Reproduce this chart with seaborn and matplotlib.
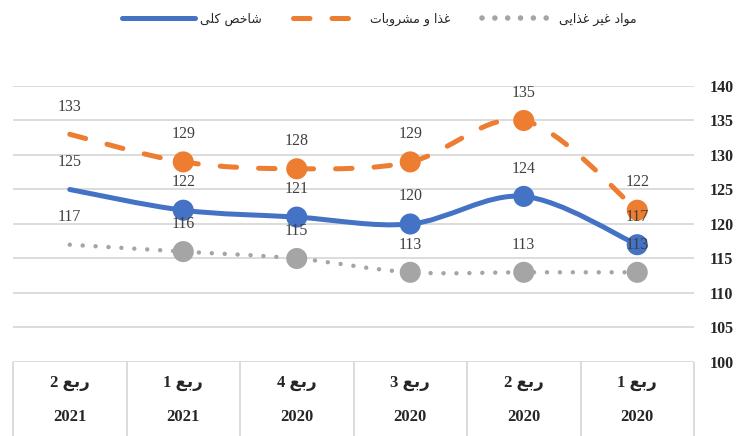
import numpy as np
import pandas as pd
import matplotlib
matplotlib.use('Agg')
import matplotlib.pyplot as plt
from matplotlib.path import Path
from matplotlib.patches import PathPatch
from matplotlib.lines import Line2D
import seaborn as sns

# chart data (chronological order, drawn right to left)
quarters = ['ربع 1', 'ربع 2', 'ربع 3', 'ربع 4', 'ربع 1', 'ربع 2']
years = ['2020', '2020', '2020', '2020', '2021', '2021']
total = [117, 124, 120, 121, 122, 125]
food = [122, 135, 129, 128, 129, 133]
nonfood = [113, 113, 113, 115, 116, 117]
series_names = ['شاخص کلی', 'غذا و مشروبات', 'مواد غیر غذایی']
colors = ['#4472C4', '#ED7D31', '#A5A5A5']

# small arabic shaper (matplotlib has no shaping / bidi)
FORMS = {
    'ا': ('\uFE8D', '\uFE8E', None, None),
    'ب': ('\uFE8F', '\uFE90', '\uFE91', '\uFE92'),
    'ت': ('\uFE95', '\uFE96', '\uFE97', '\uFE98'),
    'خ': ('\uFEA5', '\uFEA6', '\uFEA7', '\uFEA8'),
    'د': ('\uFEA9', '\uFEAA', None, None),
    'ذ': ('\uFEAB', '\uFEAC', None, None),
    'ر': ('\uFEAD', '\uFEAE', None, None),
    'ش': ('\uFEB5', '\uFEB6', '\uFEB7', '\uFEB8'),
    'ص': ('\uFEB9', '\uFEBA', '\uFEBB', '\uFEBC'),
    'ع': ('\uFEC9', '\uFECA', '\uFECB', '\uFECC'),
    'غ': ('\uFECD', '\uFECE', '\uFECF', '\uFED0'),
    'ل': ('\uFEDD', '\uFEDE', '\uFEDF', '\uFEE0'),
    'م': ('\uFEE1', '\uFEE2', '\uFEE3', '\uFEE4'),
    'و': ('\uFEED', '\uFEEE', None, None),
    'ک': ('\uFB8E', '\uFB8F', '\uFB90', '\uFB91'),
    'ی': ('\uFBFC', '\uFBFD', '\uFBFE', '\uFBFF'),
}


def shape(text):
    out = []
    for i, c in enumerate(text):
        if c not in FORMS:
            out.append(c)
            continue
        prev = text[i - 1] if i > 0 else ''
        nxt = text[i + 1] if i < len(text) - 1 else ''
        join_prev = prev in FORMS and FORMS[prev][2] is not None
        join_next = nxt in FORMS and FORMS[c][2] is not None
        if join_prev and join_next:
            out.append(FORMS[c][3])
        elif join_prev:
            out.append(FORMS[c][1])
        elif join_next:
            out.append(FORMS[c][2])
        else:
            out.append(FORMS[c][0])
    return ''.join(out)


def rtl(text):
    # words reversed, arabic letters reversed, digits kept
    words = text.split(' ')[::-1]
    return ' '.join(w if w.isdigit() else shape(w)[::-1] for w in words)


# long table for seaborn
pos = np.arange(len(years))
df = pd.DataFrame({'pos': np.tile(pos, 3),
                   'value': total + food + nonfood,
                   'series': np.repeat(series_names, len(years))})

sns.set_style('white')
plt.rcParams['font.family'] = ['Liberation Serif', 'DejaVu Sans']

fig = plt.figure(figsize=(7.46, 4.36), dpi=100)
ax = fig.add_axes([13 / 746, 74 / 436, 681 / 746, 276 / 436])


# smooth line like excel (bezier through the points)
def smooth_path(xs, ys):
    pts = np.column_stack([xs, ys]).astype(float)
    n = len(pts)
    verts = [pts[0]]
    codes = [Path.MOVETO]
    for i in range(n - 1):
        p0 = pts[i - 1] if i > 0 else pts[i]
        p3 = pts[i + 2] if i + 2 < n else pts[i + 1]
        c1 = pts[i] + (pts[i + 1] - p0) / 6
        c2 = pts[i + 1] - (p3 - pts[i]) / 6
        verts += [c1, c2, pts[i + 1]]
        codes += [Path.CURVE4] * 3
    return Path(verts, codes)


styles = ['-', (0, (3.3, 4.4)), (0, (0.01, 2.9))]
widths = [3.6, 3.6, 3.2]
for name, col, ls, lw in zip(series_names, colors, styles, widths):
    sub = df[df['series'] == name].iloc[::-1]  # start the dash pattern on the left
    ax.add_patch(PathPatch(smooth_path(sub['pos'], sub['value']), fill=False,
                           edgecolor=col, lw=lw, linestyle=ls,
                           capstyle='round', joinstyle='round', zorder=3))

# markers on all but the last point
sns.scatterplot(ax=ax, data=df[df['pos'] < len(years) - 1], x='pos', y='value',
                hue='series', palette=colors, s=230, linewidth=0, legend=False,
                zorder=4)

# data labels
for _, row in df.iterrows():
    ax.annotate(str(row['value']), (row['pos'], row['value']), xytext=(0, 20),
                textcoords='offset points', ha='center', va='center',
                fontsize=11.5, color='#404040', family='Liberation Serif', zorder=5)

ax.set_xlim(len(years) - 0.5, -0.5)
ax.set_ylim(100, 140)
ax.set_yticks(range(100, 141, 5))
ax.set_xticks([])
ax.set_xlabel('')
ax.set_ylabel('')
ax.yaxis.tick_right()
ax.tick_params(axis='y', length=0, pad=11, labelsize=11.5)
for lab in ax.get_yticklabels():
    lab.set_fontweight('bold')
    lab.set_family('Liberation Serif')
ax.grid(axis='y', color='#D9D9D9', lw=1.3)
ax.set_axisbelow(True)
for s in ax.spines.values():
    s.set_visible(False)

# category table under the plot
trans = ax.get_xaxis_transform()
ax.vlines(np.arange(-0.5, len(years)), 0, -0.3, transform=trans, color='#D9D9D9',
          lw=1.3, clip_on=False)
for p, q, y in zip(pos, quarters, years):
    ax.text(p, -0.076, rtl(q), transform=trans, ha='center', va='center',
            fontsize=12, fontweight='bold', family=['Liberation Serif', 'DejaVu Sans'])
    ax.text(p, -0.198, y, transform=trans, ha='center', va='center',
            fontsize=12, fontweight='bold', family='Liberation Serif')

# legend
handles = [Line2D([], [], color=c, lw=lw, linestyle=ls,
                  solid_capstyle='round', dash_capstyle='round')
           for c, ls, lw in zip(colors, styles, widths)]
handles[2].set_linewidth(4)
handles[2].set_linestyle((0, (0.01, 2.3)))
fig.legend(handles, [rtl(n) for n in series_names], loc='center',
           bbox_to_anchor=(0.509, 0.956), ncol=3, frameon=False, handlelength=5.8,
           columnspacing=2.5, handletextpad=0.4,
           prop={'family': 'DejaVu Sans', 'size': 9})

fig.savefig('out.png', dpi=100)
